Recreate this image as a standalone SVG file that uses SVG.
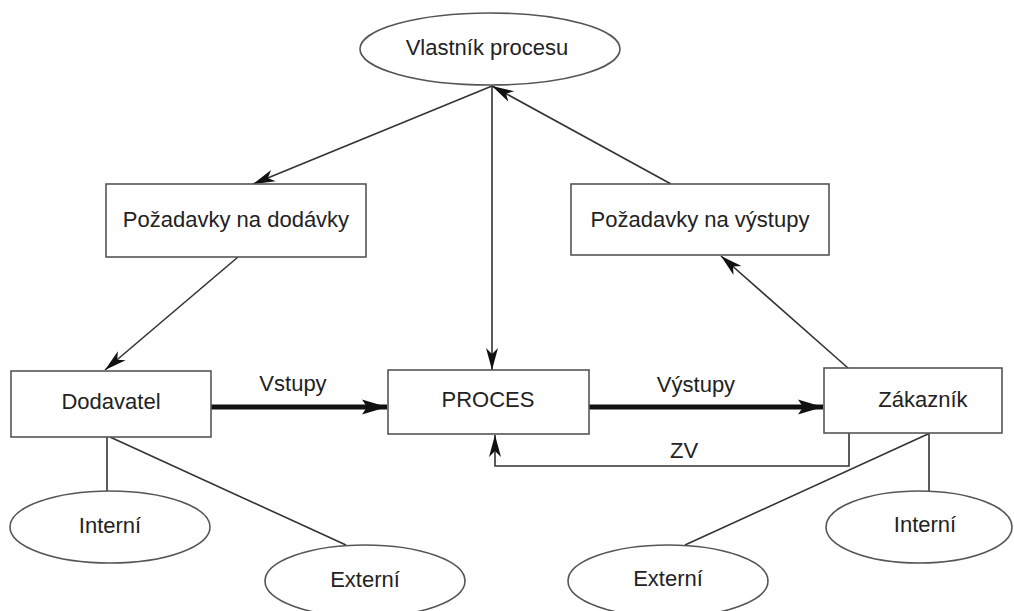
<svg xmlns="http://www.w3.org/2000/svg" width="1014" height="611" viewBox="0 0 1014 611">
<defs>
<style>
.node rect, .node ellipse { fill: #ffffff; stroke: #555555; stroke-width: 1.6; }
.lbl { font-family: "Liberation Sans", Arial, sans-serif; font-size: 22px; fill: #222222; text-anchor: middle; }
.thin { fill: none; stroke: #333333; stroke-width: 1.6; }
.thick { fill: none; stroke: #111111; stroke-width: 5; }
</style>
<marker id="ah" markerUnits="userSpaceOnUse" markerWidth="23" markerHeight="14" refX="22" refY="7" orient="auto">
<path d="M0,1 L22,7 L0,13 L6,7 Z" fill="#111111"/>
</marker>
<marker id="ahThick" markerUnits="userSpaceOnUse" markerWidth="26" markerHeight="16" refX="25" refY="8" orient="auto">
<path d="M0,0.5 L25,8 L0,15.5 L5,8 Z" fill="#111111"/>
</marker>
</defs>
<rect width="1014" height="611" fill="#ffffff"/>

<g id="connectors">
<line class="thin" x1="492" y1="86" x2="253" y2="184" marker-end="url(#ah)"/>
<line class="thin" x1="492" y1="86" x2="492" y2="370" marker-end="url(#ah)"/>
<line class="thin" x1="671" y1="184" x2="492" y2="86" marker-end="url(#ah)"/>
<line class="thin" x1="238" y1="257" x2="105" y2="370" marker-end="url(#ah)"/>
<line class="thin" x1="848" y1="368" x2="721" y2="256" marker-end="url(#ah)"/>
<line class="thick" x1="211" y1="407" x2="387" y2="407" marker-end="url(#ahThick)"/>
<line class="thick" x1="589" y1="407" x2="823" y2="407" marker-end="url(#ahThick)"/>
<polyline class="thin" points="849,433 849,466 495,466 495,435" marker-end="url(#ah)"/>
<line class="thin" x1="107" y1="437" x2="107" y2="492"/>
<line class="thin" x1="110" y1="437" x2="346" y2="545"/>
<line class="thin" x1="929" y1="433" x2="929" y2="491"/>
<line class="thin" x1="928" y1="434" x2="685" y2="545"/>
<text class="lbl" x="293" y="391">Vstupy</text>
<text class="lbl" x="696" y="392">Výstupy</text>
<text class="lbl" x="684" y="458">ZV</text>
</g>

<g id="vlastnik" class="node">
<ellipse cx="490" cy="49" rx="130" ry="36"/>
<text class="lbl" x="487" y="55">Vlastník procesu</text>
</g>

<g id="pozadavky-dodavky" class="node">
<rect x="106" y="184" width="260" height="73"/>
<text class="lbl" x="236" y="227">Požadavky na dodávky</text>
</g>

<g id="pozadavky-vystupy" class="node">
<rect x="571" y="184" width="258" height="71"/>
<text class="lbl" x="700" y="227">Požadavky na výstupy</text>
</g>

<g id="dodavatel" class="node">
<rect x="11" y="371" width="200" height="66"/>
<text class="lbl" x="111" y="409">Dodavatel</text>
</g>

<g id="proces" class="node">
<rect x="388" y="370" width="201" height="64"/>
<text class="lbl" x="488" y="407">PROCES</text>
</g>

<g id="zakaznik" class="node">
<rect x="824" y="368" width="178" height="65"/>
<text class="lbl" x="923" y="407">Zákazník</text>
</g>

<g id="interni-left" class="node">
<ellipse cx="110" cy="527" rx="100" ry="36"/>
<text class="lbl" x="110" y="533">Interní</text>
</g>

<g id="externi-left" class="node">
<ellipse cx="365" cy="581" rx="100" ry="36"/>
<text class="lbl" x="365" y="587">Externí</text>
</g>

<g id="externi-right" class="node">
<ellipse cx="668" cy="581" rx="100" ry="36"/>
<text class="lbl" x="668" y="586">Externí</text>
</g>

<g id="interni-right" class="node">
<ellipse cx="919" cy="527" rx="93" ry="36"/>
<text class="lbl" x="925" y="532">Interní</text>
</g>
</svg>
